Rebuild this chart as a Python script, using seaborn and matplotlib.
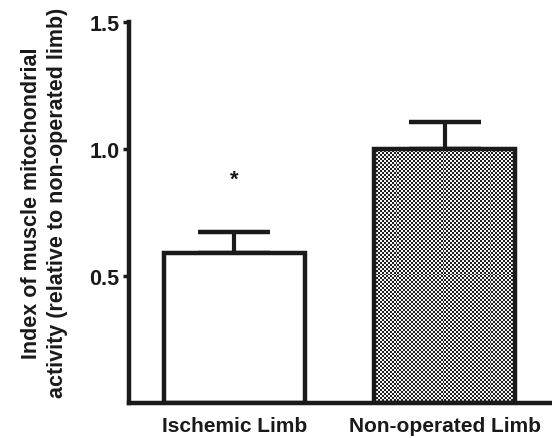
import numpy as np
import pandas as pd
import matplotlib
matplotlib.use("Agg")
import matplotlib.pyplot as plt
import seaborn as sns

categories = ["Ischemic Limb", "Non-operated Limb"]
means = [0.59, 1.0]
sems = [0.083, 0.106]
yticks = [0.5, 1.0, 1.5]
ylabel = "Index of muscle mitochondrial\nactivity (relative to non-operated limb)"

sns.set_theme(style="white")
plt.rcParams['font.family'] = ['Liberation Sans', 'DejaVu Sans']
plt.rcParams['font.weight'] = 'bold'

fig = plt.figure(figsize=(5.52, 4.39), dpi=100)
ax = fig.add_axes([0.2337, 0.0797, 0.7623, 0.8679])

df = pd.DataFrame({"cat": categories, "val": means})
sns.barplot(data=df, x="cat", y="val", ax=ax, color="white", width=0.67,
            edgecolor="#1a1a1a", linewidth=3.2, errorbar=None, zorder=2)

# checkerboard for second bar
patch = ax.patches[1]
bx, by = patch.get_x(), patch.get_y()
bw, bh = patch.get_width(), patch.get_height()
nx, ny = 72, 128
checker = (np.indices((ny, nx)).sum(axis=0) % 2).astype(float)
im = ax.imshow(checker, cmap="gray", vmin=-0.15, vmax=1.05, interpolation="nearest",
               extent=[bx, bx + bw, by, by + bh], aspect="auto", zorder=1.5)
im.set_clip_path(patch)
patch.set_facecolor("none")
patch.set_zorder(3)

ax.errorbar(range(len(categories)), means, yerr=[[0, 0], sems], fmt="none",
            ecolor="#1a1a1a", elinewidth=3, capsize=26, capthick=3.2, zorder=1)

ax.text(0, 0.88, "*", ha="center", va="center", fontsize=16, fontweight="bold", color="#1a1a1a")

ax.set_xlim(-0.5, 1.5)
ax.set_ylim(0, 1.5)
ax.set_yticks(yticks)
ax.set_yticklabels([f"{t:.1f}" for t in yticks], fontsize=15.5, fontweight="bold", color="#1a1a1a")
ax.set_xticks(range(len(categories)))
ax.set_xticklabels(categories, fontsize=15, fontweight="bold", color="#1a1a1a")
ax.set_xlabel("")
ax.set_ylabel(ylabel, fontsize=15.5, fontweight="bold", color="#1a1a1a", linespacing=1.3)
ax.yaxis.set_label_coords(-0.145, 0.528)

for s in ["top", "right"]:
    ax.spines[s].set_visible(False)
for s in ["left", "bottom"]:
    ax.spines[s].set_linewidth(3.2)
    ax.spines[s].set_color("#1a1a1a")
ax.tick_params(axis="y", direction="out", length=4, width=2.5, color="#1a1a1a", pad=3, left=True)
ax.tick_params(axis="x", length=0, pad=9)
ax.set_facecolor("white")
fig.patch.set_facecolor("white")

fig.savefig("out.png", dpi=100)
